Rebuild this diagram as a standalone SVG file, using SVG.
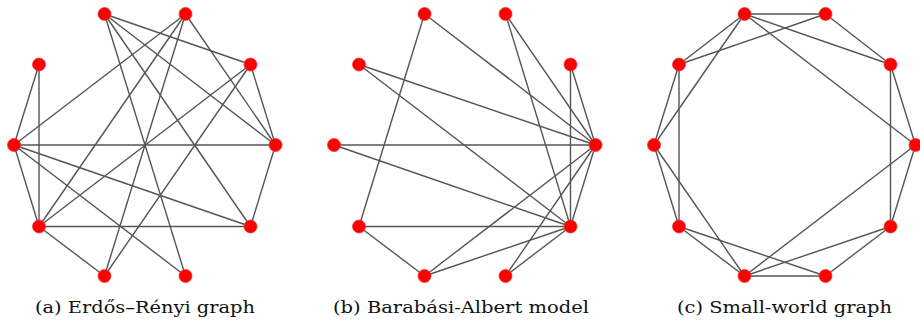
<svg xmlns="http://www.w3.org/2000/svg" width="920" height="324" viewBox="0 0 920 324">
<style>
.e line{stroke:#555;stroke-width:1.4;}
.n circle{fill:#ff0000;stroke:#e33;stroke-width:0.8;}
.cap{font-family:"DejaVu Serif","Liberation Serif",serif;font-size:17px;fill:#111;text-anchor:middle;}
</style>
<rect width="920" height="324" fill="#fff"/>
<!-- (a) Erdős–Rényi -->
<g id="graph-a">
<g class="e" id="edges-a">
<line x1="104.5" y1="14" x2="250.5" y2="64.5"/>
<line x1="104.5" y1="14" x2="275.5" y2="145"/>
<line x1="104.5" y1="14" x2="250.5" y2="226.5"/>
<line x1="104.5" y1="14" x2="185.5" y2="276"/>
<line x1="185.5" y1="14" x2="14" y2="145"/>
<line x1="185.5" y1="14" x2="39" y2="226.5"/>
<line x1="185.5" y1="14" x2="104.5" y2="276"/>
<line x1="185.5" y1="14" x2="275.5" y2="145"/>
<line x1="39" y1="64.5" x2="14" y2="145"/>
<line x1="39" y1="64.5" x2="39" y2="226.5"/>
<line x1="250.5" y1="64.5" x2="275.5" y2="145"/>
<line x1="250.5" y1="64.5" x2="39" y2="226.5"/>
<line x1="250.5" y1="64.5" x2="104.5" y2="276"/>
<line x1="14" y1="145" x2="275.5" y2="145"/>
<line x1="14" y1="145" x2="39" y2="226.5"/>
<line x1="14" y1="145" x2="250.5" y2="226.5"/>
<line x1="14" y1="145" x2="185.5" y2="276"/>
<line x1="275.5" y1="145" x2="250.5" y2="226.5"/>
<line x1="39" y1="226.5" x2="250.5" y2="226.5"/>
<line x1="39" y1="226.5" x2="104.5" y2="276"/>
</g>
<g class="n" id="a1"><circle cx="104.5" cy="14" r="6.5"/></g>
<g class="n" id="a2"><circle cx="185.5" cy="14" r="6.5"/></g>
<g class="n" id="a3"><circle cx="39" cy="64.5" r="6.5"/></g>
<g class="n" id="a4"><circle cx="250.5" cy="64.5" r="6.5"/></g>
<g class="n" id="a5"><circle cx="14" cy="145" r="6.5"/></g>
<g class="n" id="a6"><circle cx="275.5" cy="145" r="6.5"/></g>
<g class="n" id="a7"><circle cx="39" cy="226.5" r="6.5"/></g>
<g class="n" id="a8"><circle cx="250.5" cy="226.5" r="6.5"/></g>
<g class="n" id="a9"><circle cx="104.5" cy="276" r="6.5"/></g>
<g class="n" id="a10"><circle cx="185.5" cy="276" r="6.5"/></g>
<text class="cap" x="145" y="313" textLength="220" lengthAdjust="spacingAndGlyphs">(a) Erdős–Rényi graph</text>
</g>
<!-- (b) Barabási-Albert -->
<g id="graph-b">
<g class="e" id="edges-b">
<line x1="424.5" y1="14" x2="595.5" y2="145"/>
<line x1="424.5" y1="14" x2="359" y2="226.5"/>
<line x1="505.5" y1="14" x2="595.5" y2="145"/>
<line x1="505.5" y1="14" x2="570.5" y2="226.5"/>
<line x1="359" y1="64.5" x2="595.5" y2="145"/>
<line x1="359" y1="64.5" x2="570.5" y2="226.5"/>
<line x1="570.5" y1="64.5" x2="595.5" y2="145"/>
<line x1="570.5" y1="64.5" x2="570.5" y2="226.5"/>
<line x1="334" y1="145" x2="595.5" y2="145"/>
<line x1="334" y1="145" x2="570.5" y2="226.5"/>
<line x1="359" y1="226.5" x2="570.5" y2="226.5"/>
<line x1="359" y1="226.5" x2="424.5" y2="276"/>
<line x1="424.5" y1="276" x2="595.5" y2="145"/>
<line x1="424.5" y1="276" x2="570.5" y2="226.5"/>
<line x1="505.5" y1="276" x2="595.5" y2="145"/>
<line x1="505.5" y1="276" x2="570.5" y2="226.5"/>
<line x1="595.5" y1="145" x2="570.5" y2="226.5"/>
</g>
<g class="n" id="b1"><circle cx="424.5" cy="14" r="6.5"/></g>
<g class="n" id="b2"><circle cx="505.5" cy="14" r="6.5"/></g>
<g class="n" id="b3"><circle cx="359" cy="64.5" r="6.5"/></g>
<g class="n" id="b4"><circle cx="570.5" cy="64.5" r="6.5"/></g>
<g class="n" id="b5"><circle cx="334" cy="145" r="6.5"/></g>
<g class="n" id="b6"><circle cx="595.5" cy="145" r="6.5"/></g>
<g class="n" id="b7"><circle cx="359" cy="226.5" r="6.5"/></g>
<g class="n" id="b8"><circle cx="570.5" cy="226.5" r="6.5"/></g>
<g class="n" id="b9"><circle cx="424.5" cy="276" r="6.5"/></g>
<g class="n" id="b10"><circle cx="505.5" cy="276" r="6.5"/></g>
<text class="cap" x="461" y="313" textLength="256" lengthAdjust="spacingAndGlyphs">(b) Barabási-Albert model</text>
</g>
<!-- (c) Small-world -->
<g id="graph-c">
<g class="e" id="edges-c">
<line x1="744.5" y1="14" x2="825.5" y2="14"/>
<line x1="744.5" y1="14" x2="679" y2="64.5"/>
<line x1="744.5" y1="14" x2="654" y2="145"/>
<line x1="744.5" y1="14" x2="890.5" y2="64.5"/>
<line x1="744.5" y1="14" x2="915.5" y2="145"/>
<line x1="825.5" y1="14" x2="679" y2="64.5"/>
<line x1="825.5" y1="14" x2="890.5" y2="64.5"/>
<line x1="679" y1="64.5" x2="654" y2="145"/>
<line x1="679" y1="64.5" x2="679" y2="226.5"/>
<line x1="890.5" y1="64.5" x2="915.5" y2="145"/>
<line x1="890.5" y1="64.5" x2="890.5" y2="226.5"/>
<line x1="654" y1="145" x2="679" y2="226.5"/>
<line x1="654" y1="145" x2="744.5" y2="276"/>
<line x1="915.5" y1="145" x2="890.5" y2="226.5"/>
<line x1="915.5" y1="145" x2="744.5" y2="276"/>
<line x1="679" y1="226.5" x2="744.5" y2="276"/>
<line x1="679" y1="226.5" x2="825.5" y2="276"/>
<line x1="890.5" y1="226.5" x2="744.5" y2="276"/>
<line x1="890.5" y1="226.5" x2="825.5" y2="276"/>
<line x1="744.5" y1="276" x2="825.5" y2="276"/>
</g>
<g class="n" id="c1"><circle cx="744.5" cy="14" r="6.5"/></g>
<g class="n" id="c2"><circle cx="825.5" cy="14" r="6.5"/></g>
<g class="n" id="c3"><circle cx="679" cy="64.5" r="6.5"/></g>
<g class="n" id="c4"><circle cx="890.5" cy="64.5" r="6.5"/></g>
<g class="n" id="c5"><circle cx="654" cy="145" r="6.5"/></g>
<g class="n" id="c6"><circle cx="915.5" cy="145" r="6.5"/></g>
<g class="n" id="c7"><circle cx="679" cy="226.5" r="6.5"/></g>
<g class="n" id="c8"><circle cx="890.5" cy="226.5" r="6.5"/></g>
<g class="n" id="c9"><circle cx="744.5" cy="276" r="6.5"/></g>
<g class="n" id="c10"><circle cx="825.5" cy="276" r="6.5"/></g>
<text class="cap" x="784.5" y="313" textLength="215" lengthAdjust="spacingAndGlyphs">(c) Small-world graph</text>
</g>
</svg>
